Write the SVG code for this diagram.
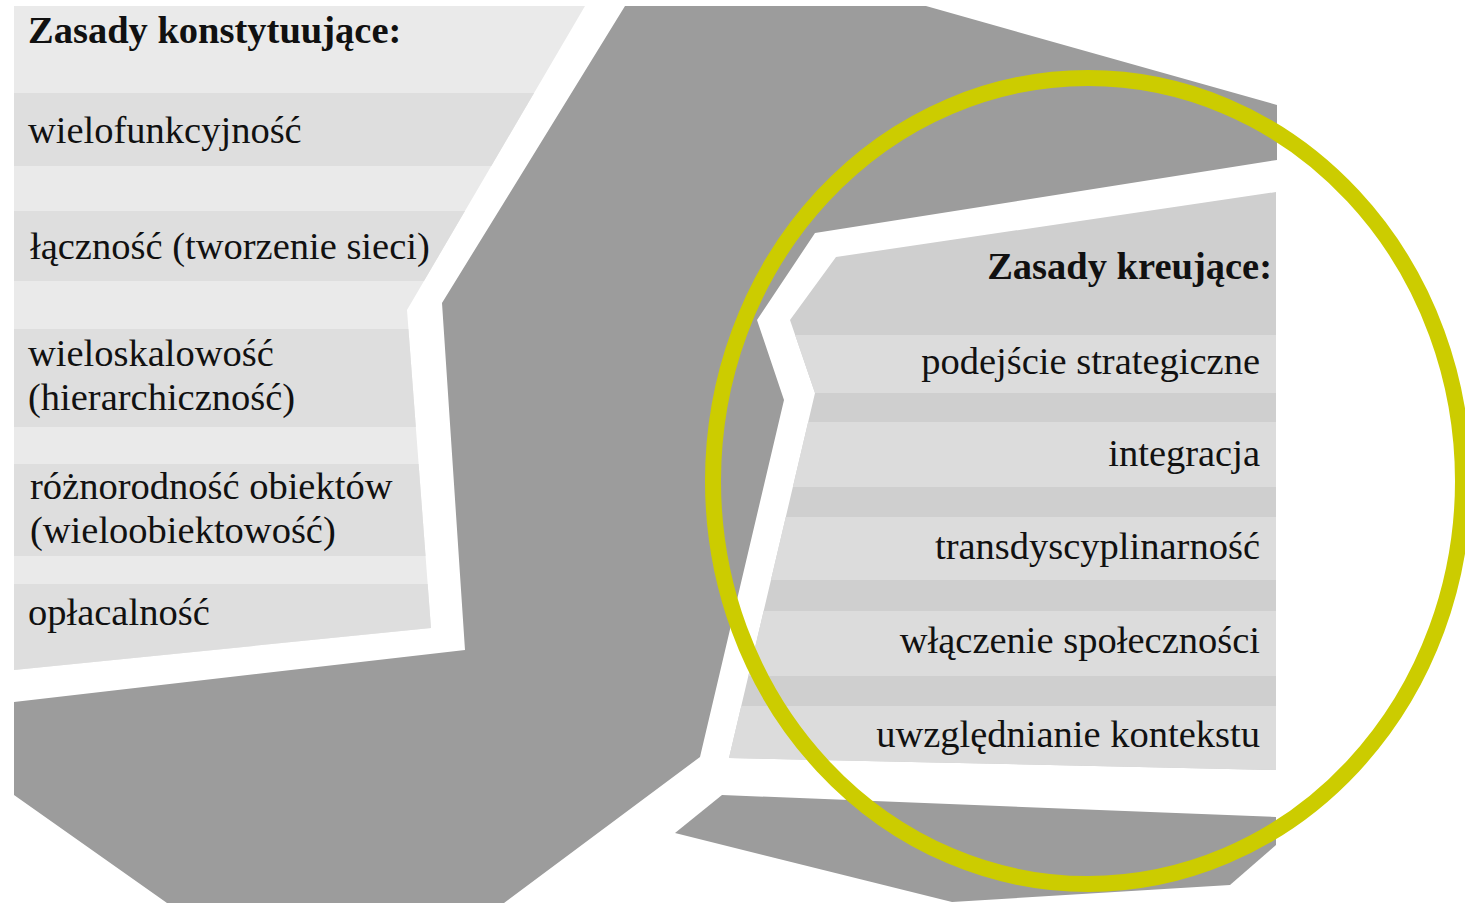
<svg xmlns="http://www.w3.org/2000/svg" width="1465" height="903" viewBox="0 0 1465 903">
<style>
  .t { font-family: "Liberation Serif", "Times New Roman", serif; font-size: 38.5px; fill: #111; }
  .b { font-weight: bold; }
  .r { text-anchor: end; }
  .dark { fill: #9c9c9c; }
  .ring { fill: none; stroke: #cccc00; stroke-width: 16; }
</style>
<defs>
  <clipPath id="clipL"><polygon points="14,6 585,6 407,310 431,628 14,670"/></clipPath>
  <clipPath id="clipR"><polygon points="836,257 1276,192 1276,770 729,758 815,393 790,320"/></clipPath>
</defs>
<rect width="1465" height="903" fill="#ffffff"/>
<g id="background-shapes">
  <polygon class="dark" points="625,6 926,6 1277,105 1277,160 815,233 757,320 784,400 700,757 504,903 167,903 14,795 14,702 465,650 442,303"/>
  <polygon class="dark" points="722,795 1276,817 1276,845 1230,885 952,902 675,833"/>
</g>
<g id="panel-left">
  <g clip-path="url(#clipL)">
    <rect x="0" y="0" width="700" height="700" fill="#eaeaea"/>
    <rect x="0" y="93" width="700" height="73" fill="#dedede"/>
    <rect x="0" y="211" width="700" height="70" fill="#dedede"/>
    <rect x="0" y="329" width="700" height="98" fill="#dedede"/>
    <rect x="0" y="464" width="700" height="92" fill="#dedede"/>
    <rect x="0" y="584" width="700" height="120" fill="#dedede"/>
  </g>
  <text class="t b" x="28" y="43">Zasady konstytuujące:</text>
  <text class="t" x="28" y="143">wielofunkcyjność</text>
  <text class="t" x="30" y="259">łączność (tworzenie sieci)</text>
  <text class="t" x="28" y="366">wieloskalowość</text>
  <text class="t" x="28" y="410">(hierarchiczność)</text>
  <text class="t" x="30" y="499">różnorodność obiektów</text>
  <text class="t" x="30" y="543">(wieloobiektowość)</text>
  <text class="t" x="28" y="625">opłacalność</text>
</g>
<g id="panel-right">
  <g clip-path="url(#clipR)">
    <rect x="700" y="180" width="600" height="600" fill="#cfcfcf"/>
    <rect x="700" y="335" width="600" height="58" fill="#dcdcdc"/>
    <rect x="700" y="422" width="600" height="65" fill="#dcdcdc"/>
    <rect x="700" y="517" width="600" height="63" fill="#dcdcdc"/>
    <rect x="700" y="611" width="600" height="65" fill="#dcdcdc"/>
    <rect x="700" y="706" width="600" height="80" fill="#dcdcdc"/>
  </g>
  <text class="t b r" x="1272" y="279">Zasady kreujące:</text>
  <text class="t r" x="1260" y="374">podejście strategiczne</text>
  <text class="t r" x="1260" y="466">integracja</text>
  <text class="t r" x="1260" y="559">transdyscyplinarność</text>
  <text class="t r" x="1260" y="653">włączenie społeczności</text>
  <text class="t r" x="1260" y="747">uwzględnianie kontekstu</text>
</g>
<g id="connectors">
  <ellipse id="ring" class="ring" cx="1088" cy="481" rx="375" ry="403"/>
</g>
</svg>
